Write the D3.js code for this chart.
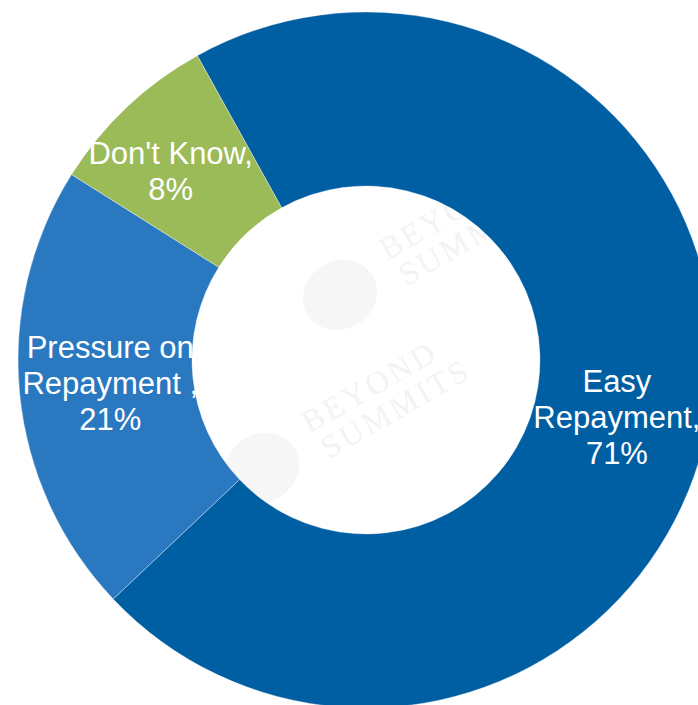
<!DOCTYPE html>
<html>
<head>
<meta charset="utf-8">
<script src="https://cdn.jsdelivr.net/npm/d3@7"></script>
<style>
  html, body { margin: 0; padding: 0; background: #fff; }
  svg { display: block; }
</style>
</head>
<body>
<svg id="chart" width="698" height="705"></svg>
<script>
// Repayment perception shares (percent)
const categories = ["Easy Repayment", "Pressure on Repayment", "Don't Know"];
const values = [71, 21, 8];
const labelLines = [
  ["Easy", "Repayment,", "71%"],
  ["Pressure on", "Repayment ,", "21%"],
  ["Don't Know,", "8%"]
];
const colors = ["#005EA3", "#2A78BF", "#9BBB59"];

const W = 698, H = 705;
const cx = 366, cy = 360;
const outerR = 348, innerR = 174;
const startDeg = -29;

const svg = d3.select("#chart");

// faint background watermark (logo mark + name), behind the ring
const wm = svg.append("g").attr("fill", "#f3f3f3");
const tiles = [[340, 295], [262, 468]];
tiles.forEach(([x, y]) => {
  const g = wm.append("g").attr("transform", `translate(${x},${y}) rotate(-30)`);
  g.append("ellipse").attr("rx", 38).attr("ry", 34).attr("fill", "#f6f6f6");
  g.append("text").attr("x", 58).attr("y", -6)
    .attr("font-family", "Liberation Serif, DejaVu Serif, serif")
    .attr("font-size", 32).attr("letter-spacing", 3).text("BEYOND");
  g.append("text").attr("x", 62).attr("y", 26)
    .attr("font-family", "Liberation Serif, DejaVu Serif, serif")
    .attr("font-size", 32).attr("letter-spacing", 3).text("SUMMITS");
});

const data = categories.map((c, i) => ({ name: c, value: values[i], color: colors[i], lines: labelLines[i] }));

const pie = d3.pie()
  .sort(null)
  .value(d => d.value)
  .startAngle(startDeg * Math.PI / 180)
  .endAngle((startDeg + 360) * Math.PI / 180);

const arc = d3.arc().innerRadius(innerR).outerRadius(outerR);
const arcs = pie(data);

const g = svg.append("g").attr("transform", `translate(${cx},${cy})`);

g.selectAll("path.slice")
  .data(arcs)
  .join("path")
  .attr("class", "slice")
  .attr("d", arc)
  .attr("fill", d => d.data.color)
  .attr("stroke", "#ffffff")
  .attr("stroke-width", 0.6)
  .attr("stroke-opacity", 0.6);

// data labels near each ring centroid, nudged the way the layout places them
const nudges = [[-7, 17], [4, -2], [-16, 1]];
const lineH = 36;
g.selectAll("text.lbl")
  .data(arcs)
  .join("text")
  .attr("class", "lbl")
  .attr("fill", "#ffffff")
  .attr("font-family", "Liberation Sans, Arial, sans-serif")
  .attr("font-size", 31)
  .attr("text-anchor", "middle")
  .each(function(d, i) {
    const [x0, y0] = arc.centroid(d);
    const x = x0 + nudges[i][0], y = y0 + nudges[i][1];
    const n = d.data.lines.length;
    d3.select(this).selectAll("tspan")
      .data(d.data.lines)
      .join("tspan")
      .attr("x", x)
      .attr("y", (t, k) => y + (k - (n - 1) / 2) * lineH + 11)
      .text(t => t);
  });
</script>
</body>
</html>
